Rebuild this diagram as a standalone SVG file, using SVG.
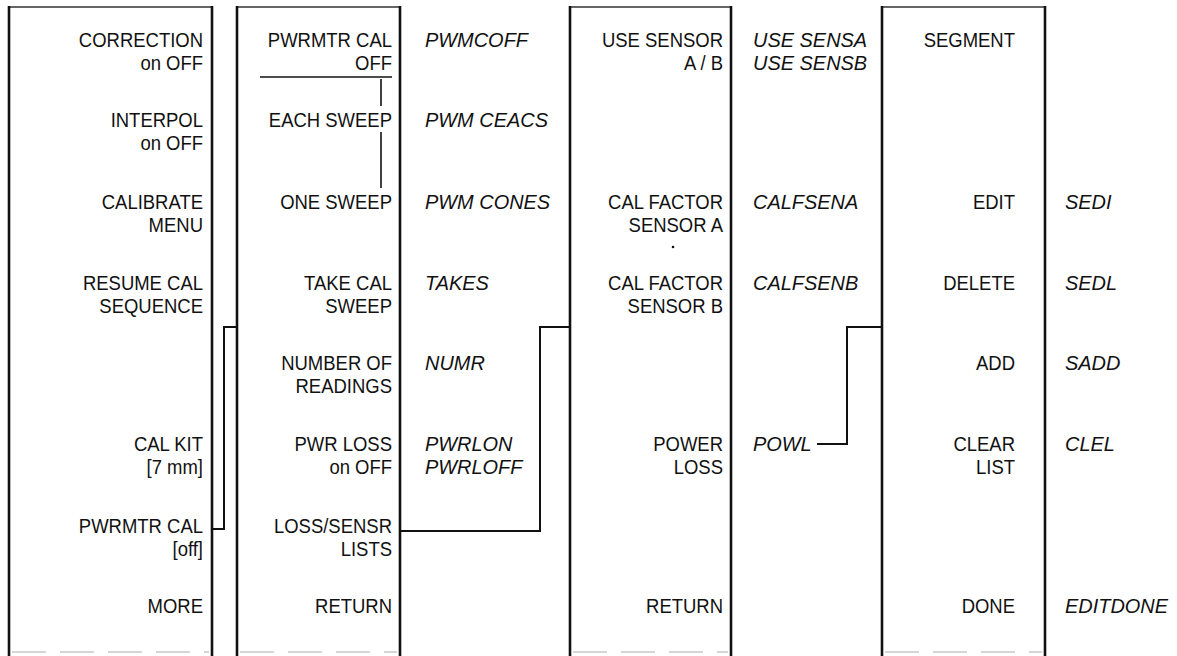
<svg xmlns="http://www.w3.org/2000/svg" width="1177" height="656" viewBox="0 0 1177 656">
<style>
.side{stroke:#111;stroke-width:2.6;fill:none}
.top{stroke:#333;stroke-width:1.6;fill:none}
.bot{stroke:#d6d6d6;stroke-width:2;stroke-dasharray:34 14;fill:none}
.t{font-family:"Liberation Sans",Arial,sans-serif;font-size:21px;fill:#111;text-anchor:end}
.i{font-family:"Liberation Sans",Arial,sans-serif;font-size:21px;font-style:italic;fill:#111}
.c{stroke:#111;stroke-width:2;fill:none}
.d{stroke:#111;stroke-width:1.6;fill:none}
</style>
<rect width="1177" height="656" fill="#fff"/>

<g id="menu-cal">
<line class="top" x1="9" y1="7" x2="212" y2="7"/>
<line class="side" x1="9" y1="6" x2="9" y2="656"/>
<line class="side" x1="212" y1="6" x2="212" y2="656"/>
<line class="bot" x1="12" y1="652" x2="209" y2="652"/>
<text class="t" transform="translate(203 47) scale(0.88 1)">CORRECTION</text>
<text class="t" transform="translate(203 70) scale(0.88 1)">on OFF</text>
<text class="t" transform="translate(203 127) scale(0.88 1)">INTERPOL</text>
<text class="t" transform="translate(203 150) scale(0.88 1)">on OFF</text>
<text class="t" transform="translate(203 209) scale(0.88 1)">CALIBRATE</text>
<text class="t" transform="translate(203 232) scale(0.88 1)">MENU</text>
<text class="t" transform="translate(203 290) scale(0.88 1)">RESUME CAL</text>
<text class="t" transform="translate(203 313) scale(0.88 1)">SEQUENCE</text>
<text class="t" transform="translate(203 451) scale(0.88 1)">CAL KIT</text>
<text class="t" transform="translate(203 474) scale(0.88 1)">[7 mm]</text>
<text class="t" transform="translate(203 533) scale(0.88 1)">PWRMTR CAL</text>
<text class="t" transform="translate(203 556) scale(0.88 1)">[off]</text>
<text class="t" transform="translate(203 613) scale(0.88 1)">MORE</text>
</g>

<g id="menu-pwrmtr">
<line class="top" x1="237" y1="7" x2="400" y2="7"/>
<line class="side" x1="237" y1="6" x2="237" y2="656"/>
<line class="side" x1="400" y1="6" x2="400" y2="656"/>
<line class="bot" x1="240" y1="652" x2="397" y2="652"/>
<text class="t" transform="translate(392 47) scale(0.88 1)">PWRMTR CAL</text>
<text class="t" transform="translate(392 70) scale(0.88 1)">OFF</text>
<line class="d" x1="260" y1="77" x2="392" y2="77"/>
<line class="d" x1="381" y1="79" x2="381" y2="106"/>
<text class="t" transform="translate(392 127) scale(0.88 1)">EACH SWEEP</text>
<line class="d" x1="381" y1="132" x2="381" y2="188"/>
<text class="t" transform="translate(392 209) scale(0.88 1)">ONE SWEEP</text>
<text class="t" transform="translate(392 290) scale(0.88 1)">TAKE CAL</text>
<text class="t" transform="translate(392 313) scale(0.88 1)">SWEEP</text>
<text class="t" transform="translate(392 370) scale(0.88 1)">NUMBER OF</text>
<text class="t" transform="translate(392 393) scale(0.88 1)">READINGS</text>
<text class="t" transform="translate(392 451) scale(0.88 1)">PWR LOSS</text>
<text class="t" transform="translate(392 474) scale(0.88 1)">on OFF</text>
<text class="t" transform="translate(392 533) scale(0.88 1)">LOSS/SENSR</text>
<text class="t" transform="translate(392 556) scale(0.88 1)">LISTS</text>
<text class="t" transform="translate(392 613) scale(0.88 1)">RETURN</text>
<text class="i" transform="translate(425 47) scale(0.95 1)">PWMCOFF</text>
<text class="i" transform="translate(425 127) scale(0.95 1)">PWM CEACS</text>
<text class="i" transform="translate(425 209) scale(0.95 1)">PWM CONES</text>
<text class="i" transform="translate(425 290) scale(0.95 1)">TAKES</text>
<text class="i" transform="translate(425 370) scale(0.95 1)">NUMR</text>
<text class="i" transform="translate(425 451) scale(0.95 1)">PWRLON</text>
<text class="i" transform="translate(425 474) scale(0.95 1)">PWRLOFF</text>
</g>

<g id="menu-losssensr">
<line class="top" x1="570" y1="7" x2="731" y2="7"/>
<line class="side" x1="570" y1="6" x2="570" y2="656"/>
<line class="side" x1="731" y1="6" x2="731" y2="656"/>
<line class="bot" x1="573" y1="652" x2="728" y2="652"/>
<text class="t" transform="translate(723 47) scale(0.88 1)">USE SENSOR</text>
<text class="t" transform="translate(723 70) scale(0.88 1)">A / B</text>
<text class="t" transform="translate(723 209) scale(0.88 1)">CAL FACTOR</text>
<text class="t" transform="translate(723 232) scale(0.88 1)">SENSOR A</text>
<circle cx="673" cy="247" r="1.3" fill="#111"/>
<text class="t" transform="translate(723 290) scale(0.88 1)">CAL FACTOR</text>
<text class="t" transform="translate(723 313) scale(0.88 1)">SENSOR B</text>
<text class="t" transform="translate(723 451) scale(0.88 1)">POWER</text>
<text class="t" transform="translate(723 474) scale(0.88 1)">LOSS</text>
<text class="t" transform="translate(723 613) scale(0.88 1)">RETURN</text>
<text class="i" transform="translate(753 47) scale(0.95 1)">USE SENSA</text>
<text class="i" transform="translate(753 70) scale(0.95 1)">USE SENSB</text>
<text class="i" transform="translate(753 209) scale(0.95 1)">CALFSENA</text>
<text class="i" transform="translate(753 290) scale(0.95 1)">CALFSENB</text>
<text class="i" transform="translate(753 451) scale(0.95 1)">POWL</text>
</g>

<g id="menu-segment">
<line class="top" x1="882" y1="7" x2="1045" y2="7"/>
<line class="side" x1="882" y1="6" x2="882" y2="656"/>
<line class="side" x1="1045" y1="6" x2="1045" y2="656"/>
<line class="bot" x1="885" y1="652" x2="1042" y2="652"/>
<text class="t" transform="translate(1015 47) scale(0.88 1)">SEGMENT</text>
<text class="t" transform="translate(1015 209) scale(0.88 1)">EDIT</text>
<text class="t" transform="translate(1015 290) scale(0.88 1)">DELETE</text>
<text class="t" transform="translate(1015 370) scale(0.88 1)">ADD</text>
<text class="t" transform="translate(1015 451) scale(0.88 1)">CLEAR</text>
<text class="t" transform="translate(1015 474) scale(0.88 1)">LIST</text>
<text class="t" transform="translate(1015 613) scale(0.88 1)">DONE</text>
<text class="i" transform="translate(1065 209) scale(0.95 1)">SEDI</text>
<text class="i" transform="translate(1065 290) scale(0.95 1)">SEDL</text>
<text class="i" transform="translate(1065 370) scale(0.95 1)">SADD</text>
<text class="i" transform="translate(1065 451) scale(0.95 1)">CLEL</text>
<text class="i" transform="translate(1065 613) scale(0.95 1)">EDITDONE</text>
</g>

<g id="connectors">
<polyline class="c" points="212,529 224,529 224,327 237,327"/>
<polyline class="c" points="400,531 540,531 540,327 570,327"/>
<polyline class="c" points="817,444 847,444 847,327 882,327"/>
</g>
</svg>
